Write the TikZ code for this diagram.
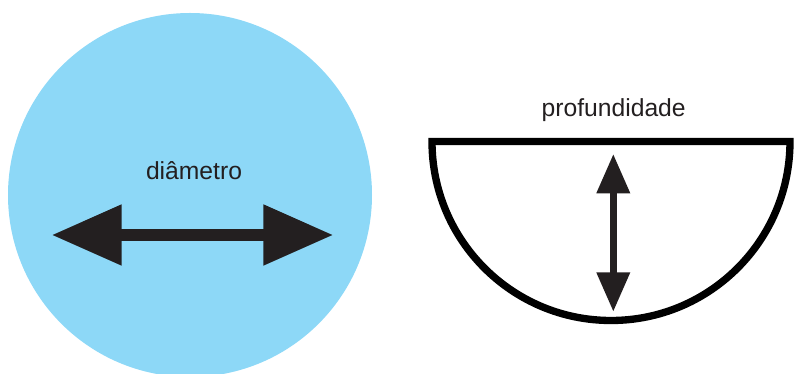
\documentclass[tikz,border=0pt]{standalone}
\usepackage{fontspec}
\setmainfont{Liberation Sans}
\usetikzlibrary{arrows.meta}
\definecolor{discfill}{HTML}{8DD8F7}
\definecolor{inkdark}{HTML}{231F20}
\tikzset{
  lbl/.style={font=\fontsize{18.5pt}{22pt}\selectfont, text=inkdark, inner sep=0pt, anchor=base},
  bigarr/.style={{Triangle[length=52.5pt, width=43.5pt]}-{Triangle[length=52.5pt, width=43.5pt]}, draw=inkdark, fill=inkdark, line width=8.8pt},
  smallarr/.style={{Triangle[length=29.5pt, width=24pt]}-{Triangle[length=29.5pt, width=24pt]}, draw=inkdark, fill=inkdark, line width=5.25pt},
  bowl/.style={draw=black, line width=5.5pt, miter limit=10},
}
\begin{document}
\begin{tikzpicture}[x=0.75pt, y=0.75pt]
\useasboundingbox (0,0) rectangle (794,374);

% Left: disc with its diameter
\node[circle, fill=discfill, inner sep=0pt, minimum size=273pt] (disc) at (190,179) {};
\node[lbl] (diam) at (194,194) {diâmetro};
\coordinate (dl) at (51.7,139);
\coordinate (dr) at (333.3,139);
\draw[bigarr] (dl) -- (dr);

% Right: half bowl with its depth
\draw[bowl] (432,232.5) -- (790,232.5) arc[start angle=0, end angle=-180, radius=134.25pt] -- cycle;
\node[lbl] (depth) at (613.7,257) {profundidade};
\coordinate (pt) at (613.3,220);
\coordinate (pb) at (613.3,62.3);
\draw[smallarr] (pt) -- (pb);

\end{tikzpicture}
\end{document}
